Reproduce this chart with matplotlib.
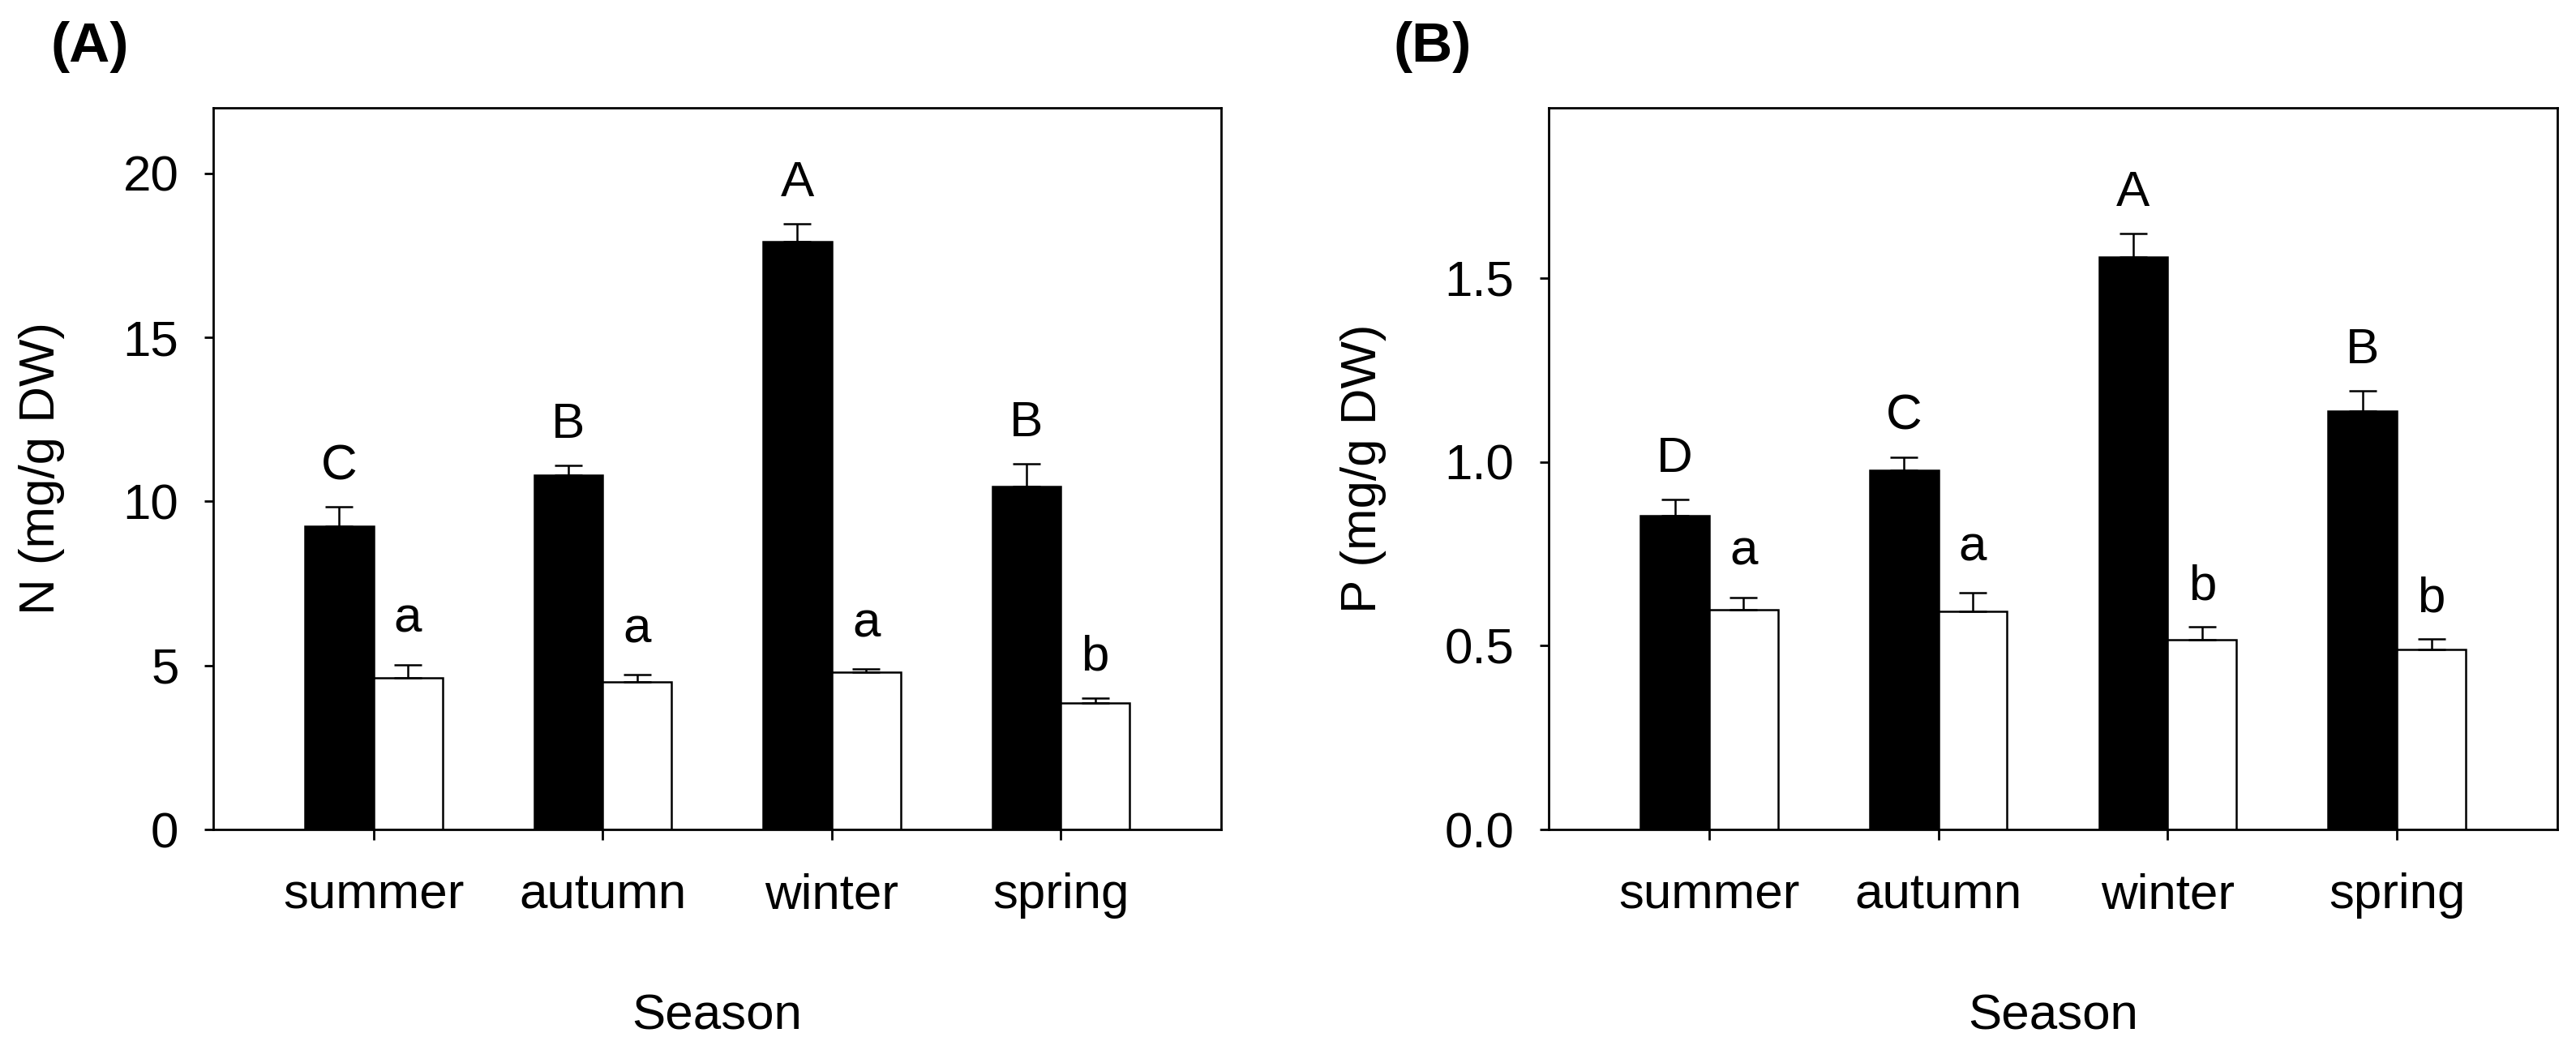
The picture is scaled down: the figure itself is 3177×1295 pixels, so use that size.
import numpy as np
import matplotlib
matplotlib.use("Agg")
import matplotlib.pyplot as plt

plt.rcParams["font.family"] = ["Liberation Sans", "DejaVu Sans"]

# data
SEASONS = ["summer", "autumn", "winter", "spring"]

N_BLACK = [9.25, 10.81, 17.93, 10.46]
N_BLACK_ERR = [0.58, 0.29, 0.53, 0.70]
N_WHITE = [4.63, 4.50, 4.79, 3.85]
N_WHITE_ERR = [0.39, 0.21, 0.10, 0.16]
N_BLACK_LETTERS = ["C", "B", "A", "B"]
N_WHITE_LETTERS = ["a", "a", "a", "b"]

P_BLACK = [0.854, 0.976, 1.557, 1.137]
P_BLACK_ERR = [0.044, 0.037, 0.064, 0.056]
P_WHITE = [0.597, 0.593, 0.516, 0.489]
P_WHITE_ERR = [0.034, 0.051, 0.035, 0.029]
P_BLACK_LETTERS = ["D", "C", "A", "B"]
P_WHITE_LETTERS = ["a", "a", "b", "b"]

N_TICKS = [0, 5, 10, 15, 20]
P_TICKS = [0.0, 0.5, 1.0, 1.5]

W, H, DPI = 3177, 1295, 200
FS = 22.3
BAR_W = 0.3


def letter_offset(ch):
    # baseline offset (points) so glyph centres sit at the same height
    return 14.4 if ch in "ace" else 12.2


def draw_panel(ax, black, black_err, white, white_err, l_black, l_white,
               yticks, ylim, yfmt, ylabel, label_x):
    x = np.arange(len(SEASONS))
    xb = x - BAR_W / 2
    xw = x + BAR_W / 2
    ax.bar(xb, black, BAR_W, color="black", edgecolor="black", linewidth=0.9,
           zorder=2)
    ax.bar(xw, white, BAR_W, color="white", edgecolor="black", linewidth=0.9,
           zorder=2)
    for xs, vals, errs in ((xb, black, black_err), (xw, white, white_err)):
        ax.errorbar(xs, vals, yerr=[np.zeros(len(vals)), errs], fmt="none",
                    ecolor="black", elinewidth=0.9, capsize=6, capthick=0.9,
                    zorder=3)
    for xs, vals, errs, letters in ((xb, black, black_err, l_black),
                                    (xw, white, white_err, l_white)):
        for xi, v, e, ch in zip(xs, vals, errs, letters):
            ax.annotate(ch, xy=(xi, v + e), xytext=(0, letter_offset(ch)),
                        textcoords="offset points", ha="center",
                        va="baseline", fontsize=FS)

    ax.set_xlim(-0.7, 3.7)
    ax.set_ylim(*ylim)
    ax.set_xticks(x)
    ax.set_xticklabels(SEASONS)
    ax.set_yticks(yticks)
    ax.set_yticklabels([yfmt.format(t) for t in yticks])
    ax.tick_params(axis="x", direction="out", length=4.7, width=1.0,
                   pad=14.5, labelsize=FS, top=False)
    ax.tick_params(axis="y", direction="out", length=4.0, width=1.0,
                   pad=11.3, labelsize=FS, right=False)
    for sp in ax.spines.values():
        sp.set_linewidth(1.0)
    ax.set_xlabel("Season", fontsize=FS, labelpad=33)
    ax.set_ylabel(ylabel, fontsize=FS)
    ax.yaxis.set_label_coords(label_x, 0.5)


fig = plt.figure(figsize=(W / DPI, H / DPI), dpi=DPI)
bottom = 1 - 1023 / H
height = (1023 - 133) / H
ax_a = fig.add_axes([263 / W, bottom, 1243 / W, height])
ax_b = fig.add_axes([1910 / W, bottom, 1244 / W, height])

draw_panel(ax_a, N_BLACK, N_BLACK_ERR, N_WHITE, N_WHITE_ERR,
           N_BLACK_LETTERS, N_WHITE_LETTERS, N_TICKS, (0, 22), "{:g}",
           "N (mg/g DW)", -0.147)
draw_panel(ax_b, P_BLACK, P_BLACK_ERR, P_WHITE, P_WHITE_ERR,
           P_BLACK_LETTERS, P_WHITE_LETTERS, P_TICKS, (0, 1.963), "{:.1f}",
           "P (mg/g DW)", -0.161)

fig.text(63 / W, 1 - 76 / H, "(A)", fontsize=25, fontweight="bold",
         ha="left", va="baseline")
fig.text(1719 / W, 1 - 76 / H, "(B)", fontsize=25, fontweight="bold",
         ha="left", va="baseline")

fig.savefig("out.png", dpi=DPI)
